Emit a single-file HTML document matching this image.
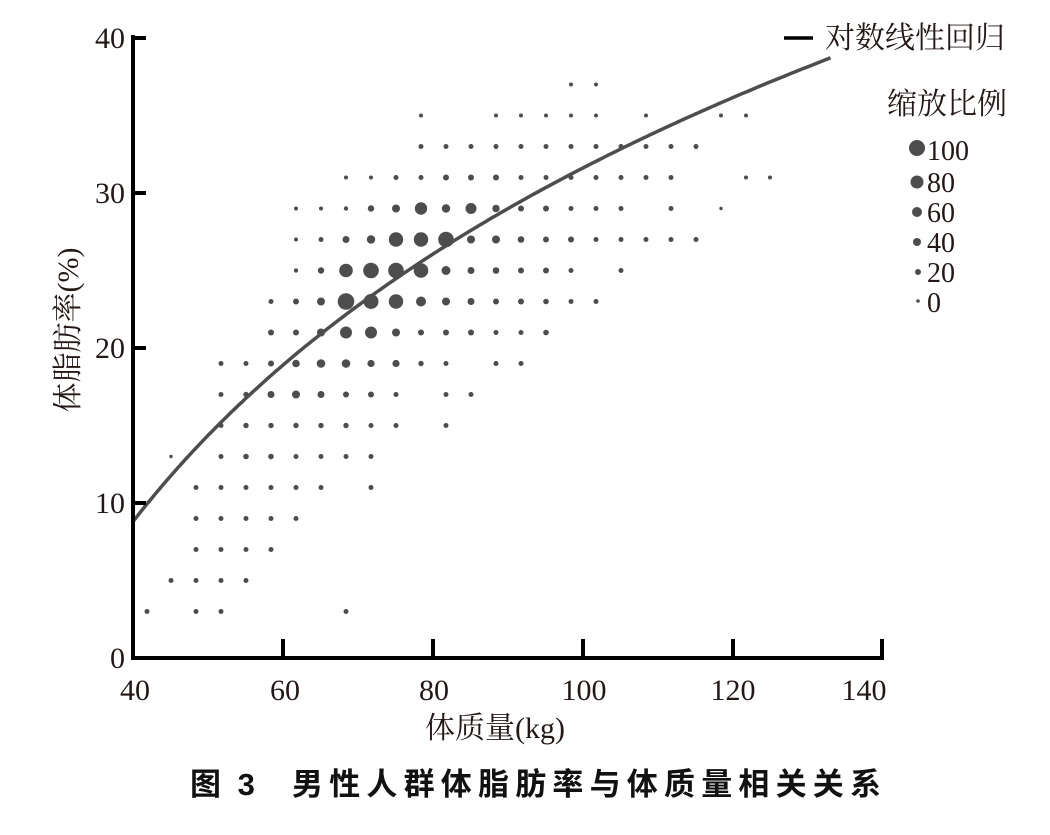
<!DOCTYPE html>
<html><head><meta charset="utf-8"><style>
html,body{margin:0;padding:0;background:#fff;width:1050px;height:835px;overflow:hidden}
svg{display:block}
.t{font-family:"Liberation Serif","Noto Serif CJK SC",serif;fill:#231815}
.c{font-family:"Liberation Sans","Noto Sans CJK SC",sans-serif;fill:#111}
</style></head><body>
<svg id="s" width="1050" height="835" viewBox="0 0 1050 835" xmlns="http://www.w3.org/2000/svg">
<g id="dots" fill="#4d4d4d"></g>
<path id="curve" fill="none" stroke="#4d4d4d" stroke-width="3.5"/>
<g stroke="#000" stroke-width="4">
<line x1="133" y1="35" x2="133" y2="660"/>
<line x1="131" y1="658" x2="884" y2="658"/>
<line x1="133" y1="38" x2="146" y2="38"/>
<line x1="133" y1="193" x2="146" y2="193"/>
<line x1="133" y1="348" x2="146" y2="348"/>
<line x1="133" y1="503" x2="146" y2="503"/>
<line x1="283" y1="658" x2="283" y2="639"/>
<line x1="433" y1="658" x2="433" y2="639"/>
<line x1="583" y1="658" x2="583" y2="639"/>
<line x1="733" y1="658" x2="733" y2="639"/>
<line x1="882" y1="658" x2="882" y2="639"/>
</g>
<g class="t" font-size="30" text-anchor="end">
<text x="125" y="48">40</text><text x="125" y="203">30</text><text x="125" y="358">20</text><text x="125" y="513">10</text><text x="125" y="668">0</text>
</g>
<g class="t" font-size="30" text-anchor="middle">
<text x="135" y="700">40</text><text x="285" y="700">60</text><text x="434" y="700">80</text><text x="584" y="700">100</text><text x="733" y="700">120</text><text x="864" y="700">140</text>
</g>
<text class="t" font-size="30" x="495" y="738" text-anchor="middle">体质量(kg)</text>
<text class="t" font-size="30" transform="translate(78,330) rotate(-90)" text-anchor="middle">体脂肪率(%)</text>
<line x1="784" y1="38" x2="813" y2="38" stroke="#000" stroke-width="3.5"/>
<text class="t" font-size="30" x="825" y="48">对数线性回归</text>
<text class="t" font-size="30" x="887" y="114">缩放比例</text>
<g fill="#4d4d4d">
<circle cx="917" cy="148" r="8"/><circle cx="917" cy="182" r="6.5"/><circle cx="917" cy="212" r="5"/><circle cx="917" cy="242" r="4"/><circle cx="918" cy="272" r="3"/><circle cx="918" cy="301" r="1.8"/>
</g>
<g class="t" font-size="28">
<text x="927" y="160">100</text><text x="927" y="192">80</text><text x="927" y="222">60</text><text x="927" y="252">40</text><text x="927" y="282">20</text><text x="927" y="312">0</text>
</g>
<text class="c" font-size="31" font-weight="bold" x="190" y="795" letter-spacing="4">图 3</text>
<text class="c" font-size="31" font-weight="bold" x="292" y="795" letter-spacing="6.2">男性人群体脂肪率与体质量相关关系</text>
</svg>
<script>
var d={
37:[[571,2],[596,2]],
35:[[421,2],[496,2],[521,2],[546,2],[571,2],[596,2],[646,2],[721,2],[746,2]],
33:[[421,2.5],[446,2.5],[471,2.5],[496,2.5],[521,2.5],[546,2.5],[571,2.5],[596,2.5],[621,2.5],[646,2.5],[671,2.5],[696,2.5]],
31:[[346,2],[371,2],[396,2.5],[421,2.5],[446,3],[471,3],[496,3],[521,2.5],[546,2.5],[571,2.5],[596,2.5],[621,2.5],[646,2.5],[671,2.5],[746,2],[770,2]],
29:[[296,2],[321,2],[346,2.2],[371,3.2],[396,4],[421,6.2],[446,4.2],[471,5.5],[496,3.7],[521,3],[546,3],[571,2.5],[596,2.5],[621,2.5],[671,2.5],[721,1.7]],
27:[[296,2],[321,2.5],[346,3.5],[371,4.2],[396,7.2],[421,7.2],[446,7.8],[471,4],[496,4],[521,3.3],[546,3],[571,3],[596,2.5],[621,2.5],[646,2.5],[671,2.5],[696,2.5]],
25:[[296,2.2],[321,3.2],[346,6.8],[371,7.8],[396,7.8],[421,7.3],[446,4.5],[471,3.5],[496,3.3],[521,3],[546,3],[571,2.5],[621,2.5]],
23:[[271,2.5],[296,3],[321,4],[346,8.3],[371,7.5],[396,7.2],[421,5],[446,4],[471,3.5],[496,3],[521,3],[546,2.8],[571,2.5],[596,2.5]],
21:[[271,3],[296,3],[321,4],[346,6],[371,6],[396,4],[421,3],[446,3],[471,3],[496,2.5],[521,2.5],[546,2.8]],
19:[[221,2.5],[246,2.5],[271,3],[296,3.8],[321,4.3],[346,4.3],[371,3.6],[396,3.6],[421,2.7],[446,2.5],[496,2.5],[521,2.5]],
17:[[221,2.5],[246,2.7],[271,3.5],[296,4],[321,3.5],[346,3],[371,3],[396,2.5],[446,2.5],[471,2.5]],
15:[[221,2.5],[246,2.7],[271,2.7],[296,2.7],[321,2.7],[346,2.7],[371,2.5],[396,2.5],[446,2.5]],
13:[[171,1.7],[221,2.5],[246,2.8],[271,2.8],[296,2.5],[321,2.5],[346,2.5],[371,2.5]],
11:[[196,2.5],[221,2.5],[246,2.5],[271,2.5],[296,2.5],[321,2.5],[371,2.5]],
9:[[196,2.5],[221,2.5],[246,2.5],[271,2.5],[296,2.5]],
7:[[196,2.5],[221,2.5],[246,2.5],[271,2.5]],
5:[[171,2.5],[196,2.5],[221,2.5],[246,2.5]],
3:[[147,2.5],[196,2.5],[221,2.5],[346,2.5]]};
var g=document.getElementById('dots'),ns='http://www.w3.org/2000/svg';
for(var v in d){var y=658-15.5*v;d[v].forEach(function(p){var c=document.createElementNS(ns,'circle');c.setAttribute('cx',p[0]);c.setAttribute('cy',y);c.setAttribute('r',p[1]);g.appendChild(c);});}
var pts=[];for(var k=40;k<=133.2;k+=0.5){var val=-83.05+24.9*Math.log(k);pts.push((133+(k-40)*7.5).toFixed(1)+','+(658-15.5*val).toFixed(1));}
document.getElementById('curve').setAttribute('d','M'+pts.join(' L'));
</script>
</body></html>
